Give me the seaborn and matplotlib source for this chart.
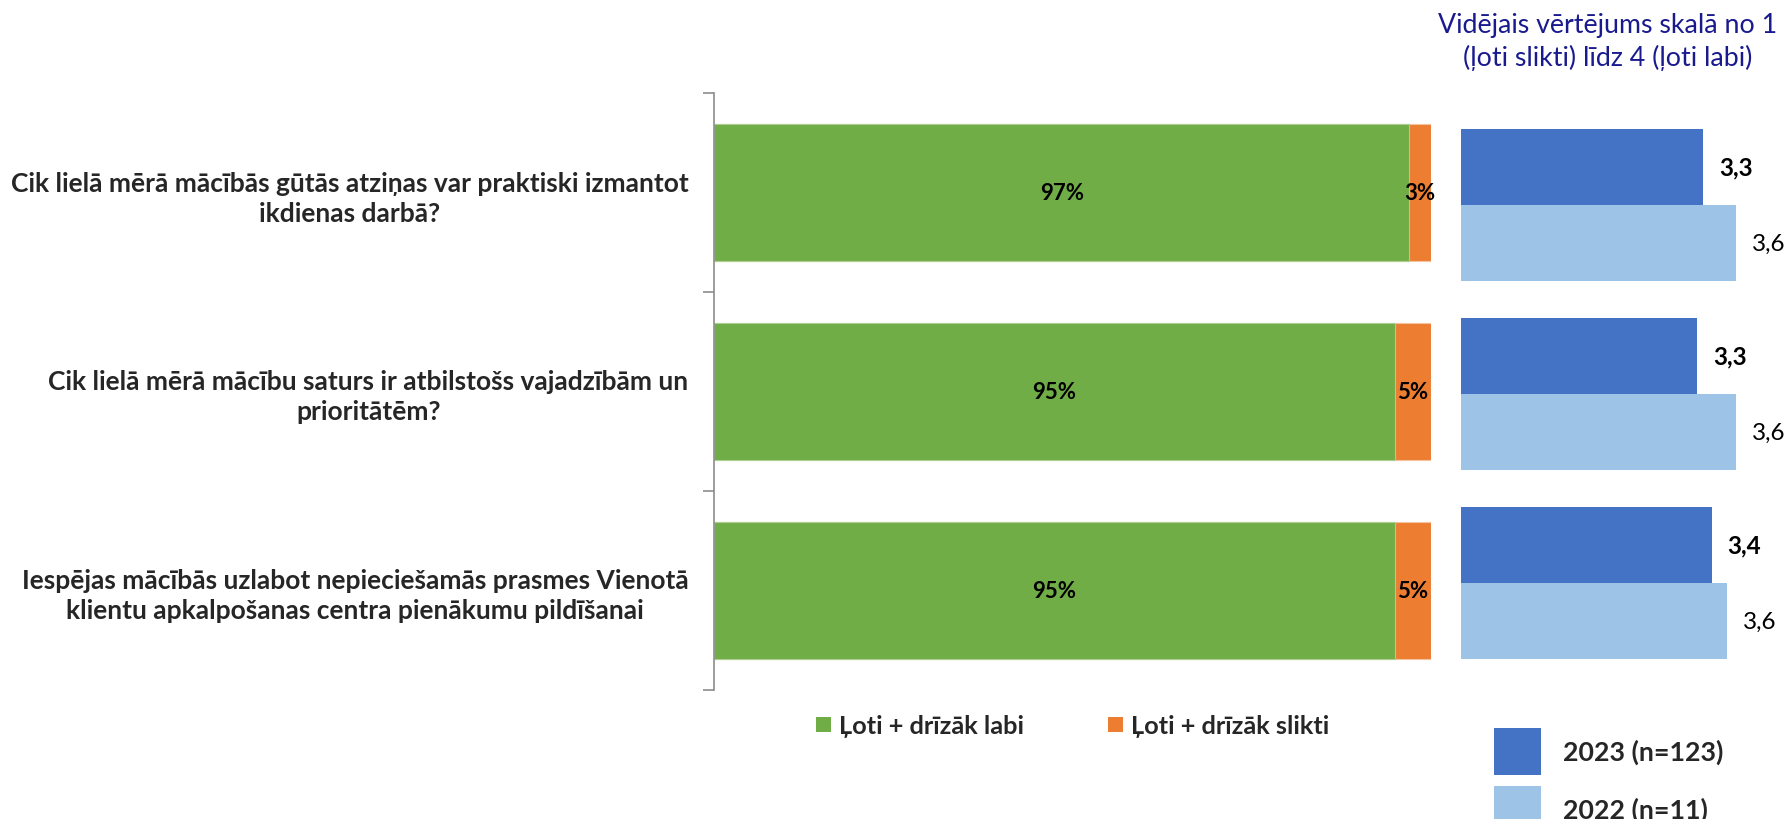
import matplotlib
matplotlib.use("Agg")
import matplotlib.pyplot as plt
import seaborn as sns
import pandas as pd
from matplotlib.patches import Patch

# ---------------- data ----------------
questions = [
    "Cik lielā mērā mācībās gūtās atziņas var praktiski izmantot\nikdienas darbā?",
    "Cik lielā mērā mācību saturs ir atbilstošs vajadzībām un\nprioritātēm?",
    "Iespējas mācībās uzlabot nepieciešamās prasmes Vienotā\nklientu apkalpošanas centra pienākumu pildīšanai",
]
good_pct = [97, 95, 95]
bad_pct = [3, 5, 5]
share_labels = ["Ļoti + drīzāk labi", "Ļoti + drīzāk slikti"]
mean_2023 = [3.33, 3.27, 3.41]
mean_2022 = [3.64, 3.64, 3.56]
year_labels = ["2023 (n=123)", "2022 (n=11)"]
title_text = "Vidējais vērtējums skalā no 1\n(ļoti slikti) līdz 4 (ļoti labi)"

# ---------------- style ----------------
GREEN = "#70AD47"
ORANGE = "#ED7D31"
DARKBLUE = "#4472C4"
LIGHTBLUE = "#9DC3E6"
TITLE_COL = "#1A1A8F"

sns.set_style("white")
plt.rcParams["font.family"] = ["Lato", "DejaVu Sans"]

W, H = 1787, 820
fig = plt.figure(figsize=(W / 100, H / 100), dpi=100)

# ---------------- left: stacked 100% bars ----------------
df_share = pd.DataFrame({"q": questions, "good": good_pct, "bad": bad_pct})
df_share["total"] = df_share["good"] + df_share["bad"]

ax1 = fig.add_axes([714 / W, 1 - 691 / H, 717 / W, 597 / H])
sns.barplot(data=df_share, y="q", x="total", color=ORANGE, orient="h",
            width=0.69, saturation=1, errorbar=None, ax=ax1,
            edgecolor="#F6C3A0", linewidth=0.8)
sns.barplot(data=df_share, y="q", x="good", color=GREEN, orient="h",
            width=0.69, saturation=1, errorbar=None, ax=ax1,
            edgecolor="#A9CF91", linewidth=0.8)
ax1.set_xlim(0, 100)
ax1.set_ylim(2.5, -0.5)
ax1.set_xlabel("")
ax1.set_ylabel("")
ax1.set_xticks([])
ax1.set_yticks(range(len(questions)))
ax1.set_yticklabels(questions, fontsize=19, fontweight="bold")
for lab in ax1.get_yticklabels():
    lab.set_multialignment("center")
    lab.set_linespacing(1.3)
ax1.tick_params(axis="y", which="major", left=False, length=0, pad=18.5)
ax1.set_yticks([-0.5, 0.5, 1.5, 2.5], minor=True)
ax1.tick_params(axis="y", which="minor", left=True, length=8, width=1.2,
                color="#8C8C8C", direction="out")
for s in ["top", "right", "bottom"]:
    ax1.spines[s].set_visible(False)
ax1.spines["left"].set_color("#8C8C8C")
ax1.spines["left"].set_linewidth(1.2)

for i, (g, b) in enumerate(zip(good_pct, bad_pct)):
    ax1.text(g / 2, i, f"{g}%", ha="center", va="center",
             fontsize=16, fontweight="bold", color="black")
    ax1.text(g + b / 2, i, f"{b}%", ha="center", va="center",
             fontsize=16, fontweight="bold", color="black")

# ---------------- right: mean scores ----------------
df_mean = pd.DataFrame({
    "q": questions * 2,
    "value": mean_2023 + mean_2022,
    "year": [year_labels[0]] * 3 + [year_labels[1]] * 3,
})
ax2 = fig.add_axes([1461 / W, 1 - 678.5 / H, 312 / W, 567 / H])
sns.barplot(data=df_mean, y="q", x="value", hue="year", hue_order=year_labels,
            palette=[DARKBLUE, LIGHTBLUE], orient="h", width=0.804,
            saturation=1, errorbar=None, legend=False, ax=ax2, linewidth=0)
ax2.set_xlim(1, 4)
ax2.set_ylim(2.5, -0.5)
ax2.axis("off")
for cont, vals, wt in zip(ax2.containers, [mean_2023, mean_2022], ["bold", "normal"]):
    ax2.bar_label(cont, labels=[f"{v:.1f}".replace(".", ",") for v in vals],
                  padding=11.5, fontsize=17.5, fontweight=wt, color="black",
                  clip_on=False)

# ---------------- title ----------------
fig.text(1608 / W, 1 - 42 / H, title_text, ha="center", va="center",
         multialignment="center", color=TITLE_COL, fontsize=19.3, linespacing=1.3)

# ---------------- legends ----------------
h1 = [Patch(facecolor=GREEN, edgecolor="none"), Patch(facecolor=ORANGE, edgecolor="none")]
fig.legend(h1, share_labels, loc="center left",
           bbox_to_anchor=(816 / W, 1 - 727 / H), ncol=2, frameon=False,
           borderpad=0, borderaxespad=0, handlelength=0.6, handleheight=0.53,
           handletextpad=0.3, columnspacing=3.3,
           prop={"size": 18.3, "weight": "bold"})

h2 = [Patch(facecolor=DARKBLUE, edgecolor="none"), Patch(facecolor=LIGHTBLUE, edgecolor="none")]
fig.legend(h2, year_labels, loc="upper left",
           bbox_to_anchor=(1494 / W, 1 - 729 / H), ncol=1, frameon=False,
           borderpad=0, borderaxespad=0, handlelength=1.74, handleheight=2.3,
           handletextpad=0.83, labelspacing=0.42,
           prop={"size": 19.3, "weight": "bold"})

fig.savefig("out.png", dpi=100)
